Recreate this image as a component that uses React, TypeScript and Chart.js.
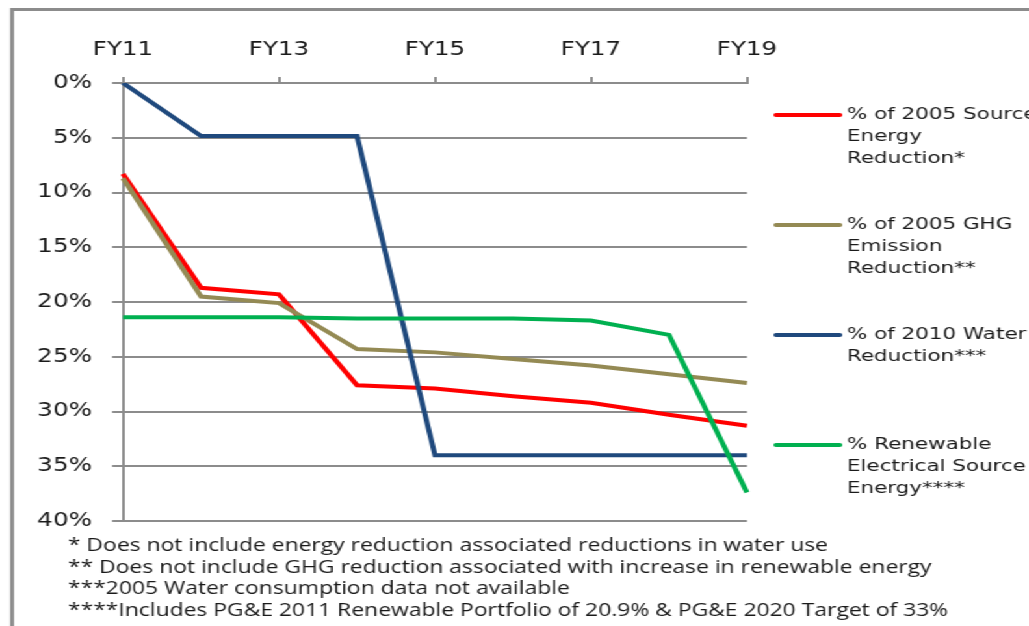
import React, { useEffect, useRef } from 'react';
import { Chart, registerables } from 'chart.js';

Chart.register(...registerables);

const categories = ['FY11', 'FY12', 'FY13', 'FY14', 'FY15', 'FY16', 'FY17', 'FY18', 'FY19'];
const sourceEnergy = [8.3, 18.7, 19.3, 27.6, 27.9, 28.6, 29.2, 30.3, 31.3];
const ghgEmission = [8.7, 19.5, 20.1, 24.3, 24.6, 25.2, 25.8, 26.6, 27.4];
const waterReduction = [0, 4.85, 4.85, 4.85, 34.0, 34.0, 34.0, 34.0, 34.0];
const renewableEnergy = [21.4, 21.4, 21.4, 21.5, 21.5, 21.5, 21.7, 23.0, 37.4];

const seriesLabels = [
  ['% of 2005 Source', 'Energy', 'Reduction*'],
  ['% of 2005 GHG', 'Emission', 'Reduction**'],
  ['% of 2010 Water', 'Reduction***'],
  ['% Renewable', 'Electrical Source', 'Energy****'],
];
const seriesColors = ['#ff0000', '#948a54', '#1f497d', '#00b050'];

const yMin = 0;
const yMax = 40;
const yStep = 5;

const footnotes = [
  '* Does not include energy reduction associated reductions in water use',
  '** Does not include GHG reduction associated with increase in renewable energy',
  '***2005 Water consumption data not available',
  '****Includes PG&E 2011 Renewable Portfolio of 20.9% & PG&E 2020 Target of 33%',
];

const STRETCH = 1.3;
const W = 792;
const H = 626;
const GRAY = '#8c8c8c';
const TEXT = '#1a1a1a';

const decorPlugin = {
  id: 'decor',
  beforeDraw(chart: any) {
    const ctx = chart.ctx;
    ctx.save();
    ctx.fillStyle = '#ffffff';
    ctx.fillRect(0, 0, chart.width, chart.height);
    ctx.strokeStyle = GRAY;
    ctx.lineWidth = 3;
    ctx.beginPath();
    ctx.moveTo(9.3, chart.height);
    ctx.lineTo(9.3, 9.5);
    ctx.lineTo(chart.width, 9.5);
    ctx.stroke();
    ctx.restore();
  },
  afterDraw(chart: any) {
    const ctx = chart.ctx;
    ctx.save();
    const rowY = [115, 225, 335, 445];
    chart.data.datasets.forEach((ds: any, i: number) => {
      const y = rowY[i];
      ctx.strokeStyle = ds.borderColor;
      ctx.lineWidth = 4;
      ctx.lineCap = 'round';
      ctx.beginPath();
      ctx.moveTo(597, y);
      ctx.lineTo(646, y);
      ctx.stroke();
      ctx.fillStyle = TEXT;
      ctx.font = '16.5px "DejaVu Sans"';
      ctx.textBaseline = 'middle';
      ctx.textAlign = 'left';
      seriesLabels[i].forEach((line, k) => {
        ctx.fillText(line, 651.5, y + k * 22);
      });
    });
    ctx.font = '17.6px "Open Sans"';
    ctx.fillStyle = TEXT;
    ctx.textBaseline = 'middle';
    footnotes.forEach((line, k) => {
      ctx.fillText(line, 52.3, 546 + k * 21.7);
    });
    ctx.restore();
  },
};

export default function App() {
  const ref = useRef<HTMLCanvasElement | null>(null);
  useEffect(() => {
    if (!ref.current) return;
    const datasets = [sourceEnergy, ghgEmission, waterReduction, renewableEnergy].map((d, i) => ({
      label: seriesLabels[i].join(' '),
      data: d,
      borderColor: seriesColors[i],
      backgroundColor: seriesColors[i],
      borderWidth: 4,
      pointRadius: 0,
      tension: 0,
      fill: false,
      order: 4 - i,
    }));
    const chart = new Chart(ref.current, {
      type: 'line',
      data: { labels: categories, datasets },
      plugins: [decorPlugin],
      options: {
        animation: false,
        responsive: false,
        devicePixelRatio: 1,
        layout: { padding: { left: 0, top: 0, right: W - 574.6, bottom: H - 521 } },
        plugins: { legend: { display: false }, tooltip: { enabled: false }, title: { display: false } },
        scales: {
          x: {
            position: 'top',
            afterFit: (s: any) => { s.height = 83; },
            border: { display: true, color: GRAY, width: 2 },
            grid: {
              drawOnChartArea: false,
              drawTicks: true,
              tickLength: 6,
              lineWidth: 2,
              color: (c: any) => (c.index % 2 === 0 ? GRAY : 'rgba(0,0,0,0)'),
            },
            ticks: {
              autoSkip: false,
              maxRotation: 0,
              padding: 16,
              color: TEXT,
              font: { family: '"DejaVu Sans"', size: 19 },
              callback: (v: any, i: number) => (i % 2 === 0 ? categories[i] : ''),
            },
          },
          y: {
            reverse: true,
            min: yMin,
            max: yMax,
            afterFit: (s: any) => { s.width = 94.6; },
            border: { display: true, color: GRAY, width: 2 },
            grid: { color: GRAY, lineWidth: 2, tickLength: 8.4, drawTicks: true },
            ticks: {
              stepSize: yStep,
              padding: 15.4,
              color: TEXT,
              font: { family: '"DejaVu Sans"', size: 19 },
              callback: (v: any) => `${v}%`,
            },
          },
        },
      },
    });
    return () => chart.destroy();
  }, []);
  return (
    <div
      style={{
        position: 'absolute',
        left: 0,
        top: 0,
        width: W,
        height: H,
        transform: `scaleX(${STRETCH})`,
        transformOrigin: '0 0',
        background: '#fff',
      }}
    >
      <canvas ref={ref} width={W} height={H} style={{ width: W, height: H, display: 'block' }} />
    </div>
  );
}
